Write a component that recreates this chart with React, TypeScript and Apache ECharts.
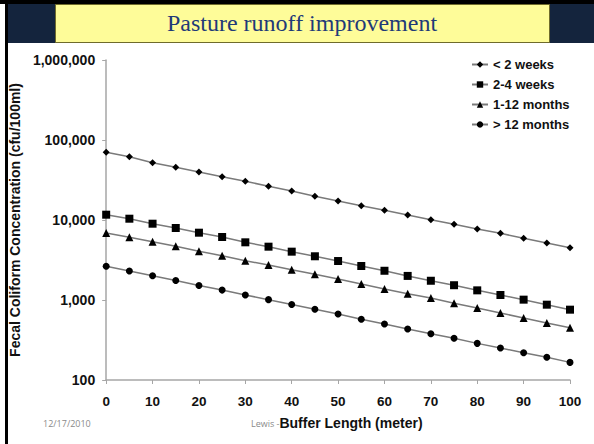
import React, { useEffect, useRef } from "react";
import * as echarts from "echarts";

const bufferLength = [0, 5, 10, 15, 20, 25, 30, 35, 40, 45, 50, 55, 60, 65, 70, 75, 80, 85, 90, 95, 100];
const lessThan2Weeks = [70200, 61800, 52000, 45600, 39800, 34800, 30500, 26400, 23050, 19800, 17300, 15100, 13200, 11550, 10090, 8840, 7720, 6820, 5900, 5160, 4510];
const weeks2to4 = [11650, 10380, 8990, 7940, 6940, 6130, 5260, 4640, 4020, 3520, 3070, 2660, 2320, 2000, 1740, 1530, 1320, 1155, 1010, 874, 757];
const months1to12 = [6880, 6080, 5350, 4690, 4060, 3580, 3100, 2740, 2390, 2100, 1830, 1585, 1370, 1200, 1060, 910, 794, 688, 596, 516, 450];
const moreThan12Months = [2640, 2300, 2010, 1750, 1520, 1330, 1155, 1010, 879, 765, 668, 574, 501, 434, 379, 332, 287, 251, 219, 192, 166];
const seriesNames = ["< 2 weeks", "2-4 weeks", "1-12 months", "> 12 months"];
const seriesSymbols = ["diamond", "rect", "triangle", "circle"];
const seriesSizes = [7, 8, 8, 7];
const seriesValues = [lessThan2Weeks, weeks2to4, months1to12, moreThan12Months];

const FONT = "Liberation Sans, Arial, sans-serif";

export default function App() {
  const ref = useRef<HTMLDivElement>(null);
  useEffect(() => {
    if (!ref.current) return;
    const chart = echarts.init(ref.current, null, { renderer: "svg" });
    chart.setOption({
      animation: false,
      backgroundColor: "#ffffff",
      grid: { left: 104, right: 24, top: 60, bottom: 64, containLabel: false },
      legend: {
        orient: "vertical",
        left: 466,
        top: 53,
        itemWidth: 16,
        itemHeight: 8,
        itemGap: 7,
        data: seriesNames,
        textStyle: { fontFamily: FONT, fontWeight: "bold", fontSize: 13, color: "#111" },
      },
      xAxis: {
        type: "value",
        min: 0,
        max: 100,
        interval: 10,
        axisLine: { lineStyle: { color: "#a6a6a6", width: 1.5 } },
        axisTick: { show: true, length: 4, lineStyle: { color: "#a6a6a6" } },
        splitLine: { show: false },
        axisLabel: { margin: 14, fontFamily: FONT, fontWeight: "bold", fontSize: 13.5, color: "#111" },
      },
      yAxis: {
        type: "log",
        logBase: 10,
        min: 100,
        max: 1000000,
        axisLine: { show: true, lineStyle: { color: "#a6a6a6", width: 1.5 } },
        axisTick: { show: true, length: 4, lineStyle: { color: "#a6a6a6" } },
        splitLine: { show: false },
        axisLabel: {
          margin: 11,
          fontFamily: FONT,
          fontWeight: "bold",
          fontSize: 14,
          color: "#111",
          formatter: (v: number) => Math.round(v).toLocaleString("en-US"),
        },
        name: "Fecal Coliform Concentration (cfu/100ml)",
        nameLocation: "middle",
        nameGap: 73,
        nameTextStyle: { fontFamily: FONT, fontWeight: "bold", fontSize: 14, color: "#111" },
      },
      series: seriesNames.map((name, i) => ({
        name,
        type: "line",
        symbol: seriesSymbols[i],
        symbolSize: seriesSizes[i],
        showSymbol: true,
        lineStyle: { color: "#7a7a7a", width: 1.5 },
        itemStyle: { color: "#000" },
        data: bufferLength.map((x, j) => [x, seriesValues[i][j]]),
      })),
      graphic: [
        { type: "rect", shape: { x: 0, y: 0, width: 594, height: 4 }, style: { fill: "#000" } },
        { type: "rect", shape: { x: 8, y: 4, width: 586, height: 39 }, style: { fill: "#14243d" } },
        { type: "rect", shape: { x: 5, y: 0, width: 3, height: 444 }, style: { fill: "#000" } },
        {
          type: "rect",
          shape: { x: 55.5, y: 4.5, width: 494, height: 38 },
          style: { fill: "#fefc99", stroke: "#6f6b2c", lineWidth: 1 },
        },
        {
          type: "text",
          x: 302,
          y: 23,
          style: {
            text: "Pasture runoff improvement",
            fill: "#1f3a78",
            font: "24px 'Liberation Serif', 'DejaVu Serif', serif",
            textAlign: "center",
            textVerticalAlign: "middle",
          },
        },
        {
          type: "text",
          x: 43,
          y: 423,
          style: {
            text: "12/17/2010",
            fill: "#8a8a8a",
            font: "9px 'Open Sans', sans-serif",
            textAlign: "left",
            textVerticalAlign: "middle",
          },
        },
        {
          type: "text",
          x: 251,
          y: 423,
          style: {
            text: "Lewis - ",
            fill: "#8a8a8a",
            font: "9px 'Open Sans', sans-serif",
            textAlign: "left",
            textVerticalAlign: "middle",
          },
        },
        {
          type: "text",
          x: 351,
          y: 423,
          style: {
            text: "Buffer Length (meter)",
            fill: "#111",
            font: "bold 14px 'Liberation Sans', Arial, sans-serif",
            textAlign: "center",
            textVerticalAlign: "middle",
          },
        },
      ],
    });
    return () => chart.dispose();
  }, []);
  return (
    <div
      ref={ref}
      style={{ position: "absolute", left: 0, top: 0, width: 594, height: 444, background: "#fff" }}
    />
  );
}
